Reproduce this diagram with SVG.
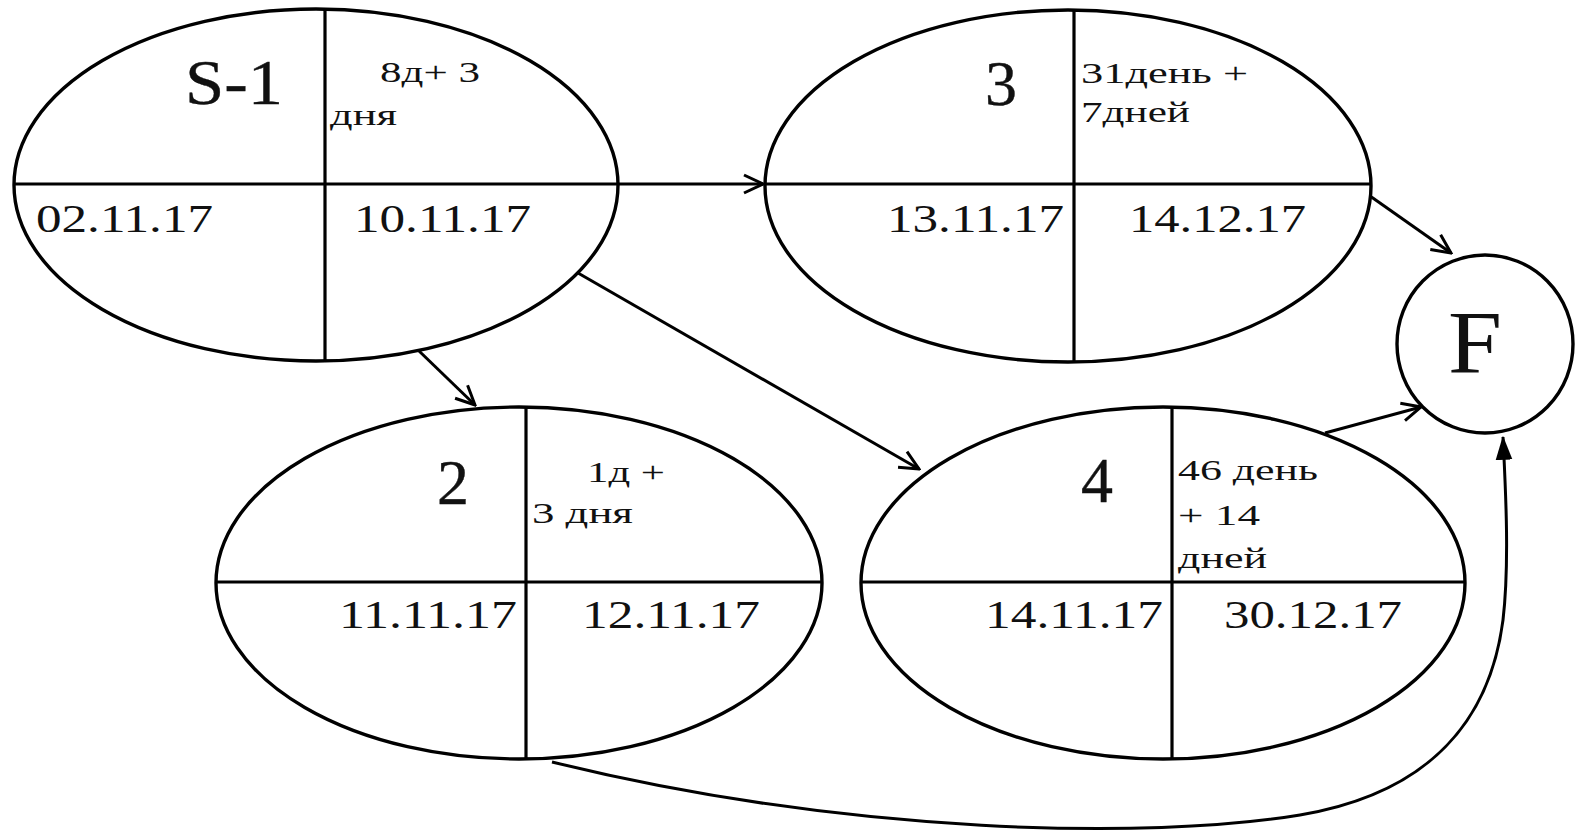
<svg xmlns="http://www.w3.org/2000/svg" width="1579" height="832" viewBox="0 0 1579 832" font-family="'Liberation Serif', 'Times New Roman', Times, serif">
<defs>
<style>
.sh{fill:#fff;stroke:#000;stroke-width:3.4}
.dv{stroke:#000;stroke-width:3.2;fill:none}
.cn{stroke:#000;stroke-width:3;fill:none}
text{fill:#111}
.big{font-size:64px;stroke:#111;stroke-width:0.4}
.sm{font-size:29px}
.dt{font-size:40px}
</style>
<marker id="open" viewBox="0 0 22 22" refX="20" refY="11" markerWidth="22" markerHeight="22" markerUnits="userSpaceOnUse" orient="auto">
<path d="M1,2 L20,11 L1,20" fill="none" stroke="#000" stroke-width="3"/>
</marker>
<marker id="fill" viewBox="0 0 20 20" refX="19" refY="10" markerWidth="24" markerHeight="24" markerUnits="userSpaceOnUse" orient="auto">
<path d="M0,3 L20,10 L0,17 Z" fill="#000"/>
</marker>
</defs>
<rect width="1579" height="832" fill="#fff"/>

<g id="connectors">
<line class="cn" x1="618" y1="184" x2="763" y2="184" marker-end="url(#open)"/>
<line class="cn" x1="578" y1="273" x2="919" y2="469" marker-end="url(#open)"/>
<line class="cn" x1="418" y1="350" x2="475" y2="405" marker-end="url(#open)"/>
<line class="cn" x1="1370" y1="196" x2="1451" y2="253" marker-end="url(#open)"/>
<line class="cn" x1="1325" y1="433" x2="1421" y2="407" marker-end="url(#open)"/>
<path class="cn" d="M552,762 C850,835 1150,840 1300,815 C1430,793 1490,720 1503,620 C1510,560 1505,480 1503,437" marker-end="url(#fill)"/>
</g>

<g id="node-s1">
<ellipse class="sh" cx="316" cy="185" rx="302" ry="176"/>
<line class="dv" x1="325" y1="9" x2="325" y2="361"/>
<line class="dv" x1="14" y1="184" x2="618" y2="184"/>
<text class="big" x="185" y="104" textLength="98" lengthAdjust="spacingAndGlyphs">S-1</text>
<text class="sm" x="380" y="82" textLength="100" lengthAdjust="spacingAndGlyphs">8д+ 3</text>
<text class="sm" x="330" y="125" textLength="67" lengthAdjust="spacingAndGlyphs">дня</text>
<text class="dt" x="36" y="232" textLength="177" lengthAdjust="spacingAndGlyphs">02.11.17</text>
<text class="dt" x="354" y="232" textLength="177" lengthAdjust="spacingAndGlyphs">10.11.17</text>
</g>

<g id="node-3">
<ellipse class="sh" cx="1068" cy="186" rx="303" ry="176"/>
<line class="dv" x1="1074" y1="10" x2="1074" y2="362"/>
<line class="dv" x1="765" y1="184" x2="1371" y2="184"/>
<text class="big" x="985" y="105">3</text>
<text class="sm" x="1081" y="83" textLength="167" lengthAdjust="spacingAndGlyphs">31день +</text>
<text class="sm" x="1081" y="122" textLength="109" lengthAdjust="spacingAndGlyphs">7дней</text>
<text class="dt" x="887" y="232" textLength="177" lengthAdjust="spacingAndGlyphs">13.11.17</text>
<text class="dt" x="1129" y="232" textLength="177" lengthAdjust="spacingAndGlyphs">14.12.17</text>
</g>

<g id="node-2">
<ellipse class="sh" cx="519" cy="583" rx="303" ry="176"/>
<line class="dv" x1="526" y1="407" x2="526" y2="759"/>
<line class="dv" x1="216" y1="582" x2="822" y2="582"/>
<text class="big" x="437" y="504">2</text>
<text class="sm" x="587" y="482" textLength="78" lengthAdjust="spacingAndGlyphs">1д +</text>
<text class="sm" x="532" y="523" textLength="101" lengthAdjust="spacingAndGlyphs">3 дня</text>
<text class="dt" x="339" y="628" textLength="178" lengthAdjust="spacingAndGlyphs">11.11.17</text>
<text class="dt" x="582" y="628" textLength="178" lengthAdjust="spacingAndGlyphs">12.11.17</text>
</g>

<g id="node-4">
<ellipse class="sh" cx="1163" cy="583" rx="302" ry="176"/>
<line class="dv" x1="1172" y1="407" x2="1172" y2="759"/>
<line class="dv" x1="861" y1="582" x2="1465" y2="582"/>
<text class="big" x="1081" y="502">4</text>
<text class="sm" x="1178" y="480" textLength="140" lengthAdjust="spacingAndGlyphs">46 день</text>
<text class="sm" x="1178" y="525" textLength="82" lengthAdjust="spacingAndGlyphs">+ 14</text>
<text class="sm" x="1178" y="568" textLength="89" lengthAdjust="spacingAndGlyphs">дней</text>
<text class="dt" x="985" y="628" textLength="178" lengthAdjust="spacingAndGlyphs">14.11.17</text>
<text class="dt" x="1224" y="628" textLength="178" lengthAdjust="spacingAndGlyphs">30.12.17</text>
</g>

<g id="node-f">
<ellipse class="sh" cx="1485" cy="344" rx="88" ry="89"/>
<text x="1448" y="372" style="font-size:88px" textLength="54" lengthAdjust="spacingAndGlyphs">F</text>
</g>
</svg>
